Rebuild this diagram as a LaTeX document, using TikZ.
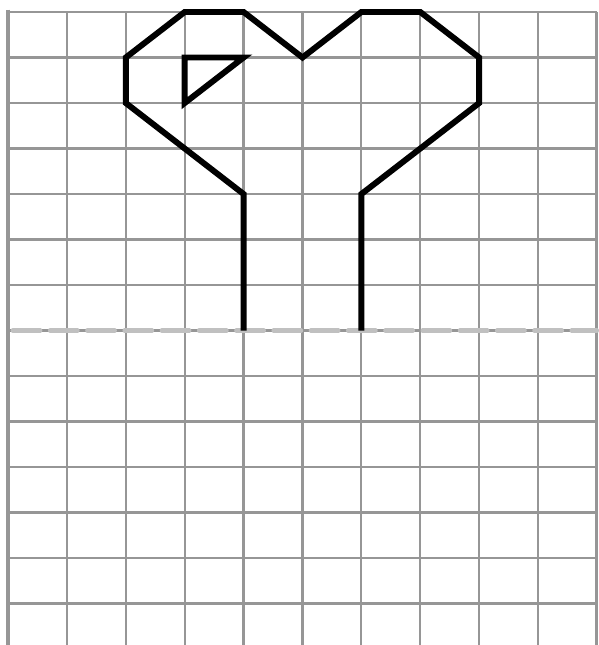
\documentclass[tikz,border=0pt]{standalone}
\usetikzlibrary{calc}
\definecolor{gridgray}{RGB}{150,150,150}
\definecolor{axisgray}{RGB}{192,192,192}

\begin{document}
\begin{tikzpicture}[x=1.5cm,y=1.159cm]
  \useasboundingbox (-0.136,0.264) rectangle (10.034,-13.91);
  \fill[white] (-0.136,0.264) rectangle (10.034,-13.91);
  % grid
  \foreach \j in {0,...,13}
    \draw[gridgray, line width=1.6pt] (0,-\j) -- (10,-\j);
  \foreach \i in {1,...,9}
    \draw[gridgray, line width=1.6pt] (\i,0) -- (\i,-13.91);
  \draw[gridgray, line width=3pt] (0,0.05) -- (0,-13.91);
  \draw[gridgray, line width=2.2pt] (10,0) -- (10,-13.91);
  % symmetry axis
  \draw[axisgray, line width=3pt, dash pattern=on 20pt off 7pt, line cap=round] (0.08,-7) -- (10,-7);
  % half-drawn figure
  \draw[line width=4.3pt, line join=miter] (4,-7) -- (4,-4) -- (2,-2) -- (2,-1) -- (3,0) -- (4,0) -- (5,-1)
    -- (6,0) -- (7,0) -- (8,-1) -- (8,-2) -- (6,-4) -- (6,-7);
  \draw[line width=4.3pt, line join=miter] (3,-1) -- (4,-1) -- (3,-2) -- cycle;
\end{tikzpicture}
\end{document}
